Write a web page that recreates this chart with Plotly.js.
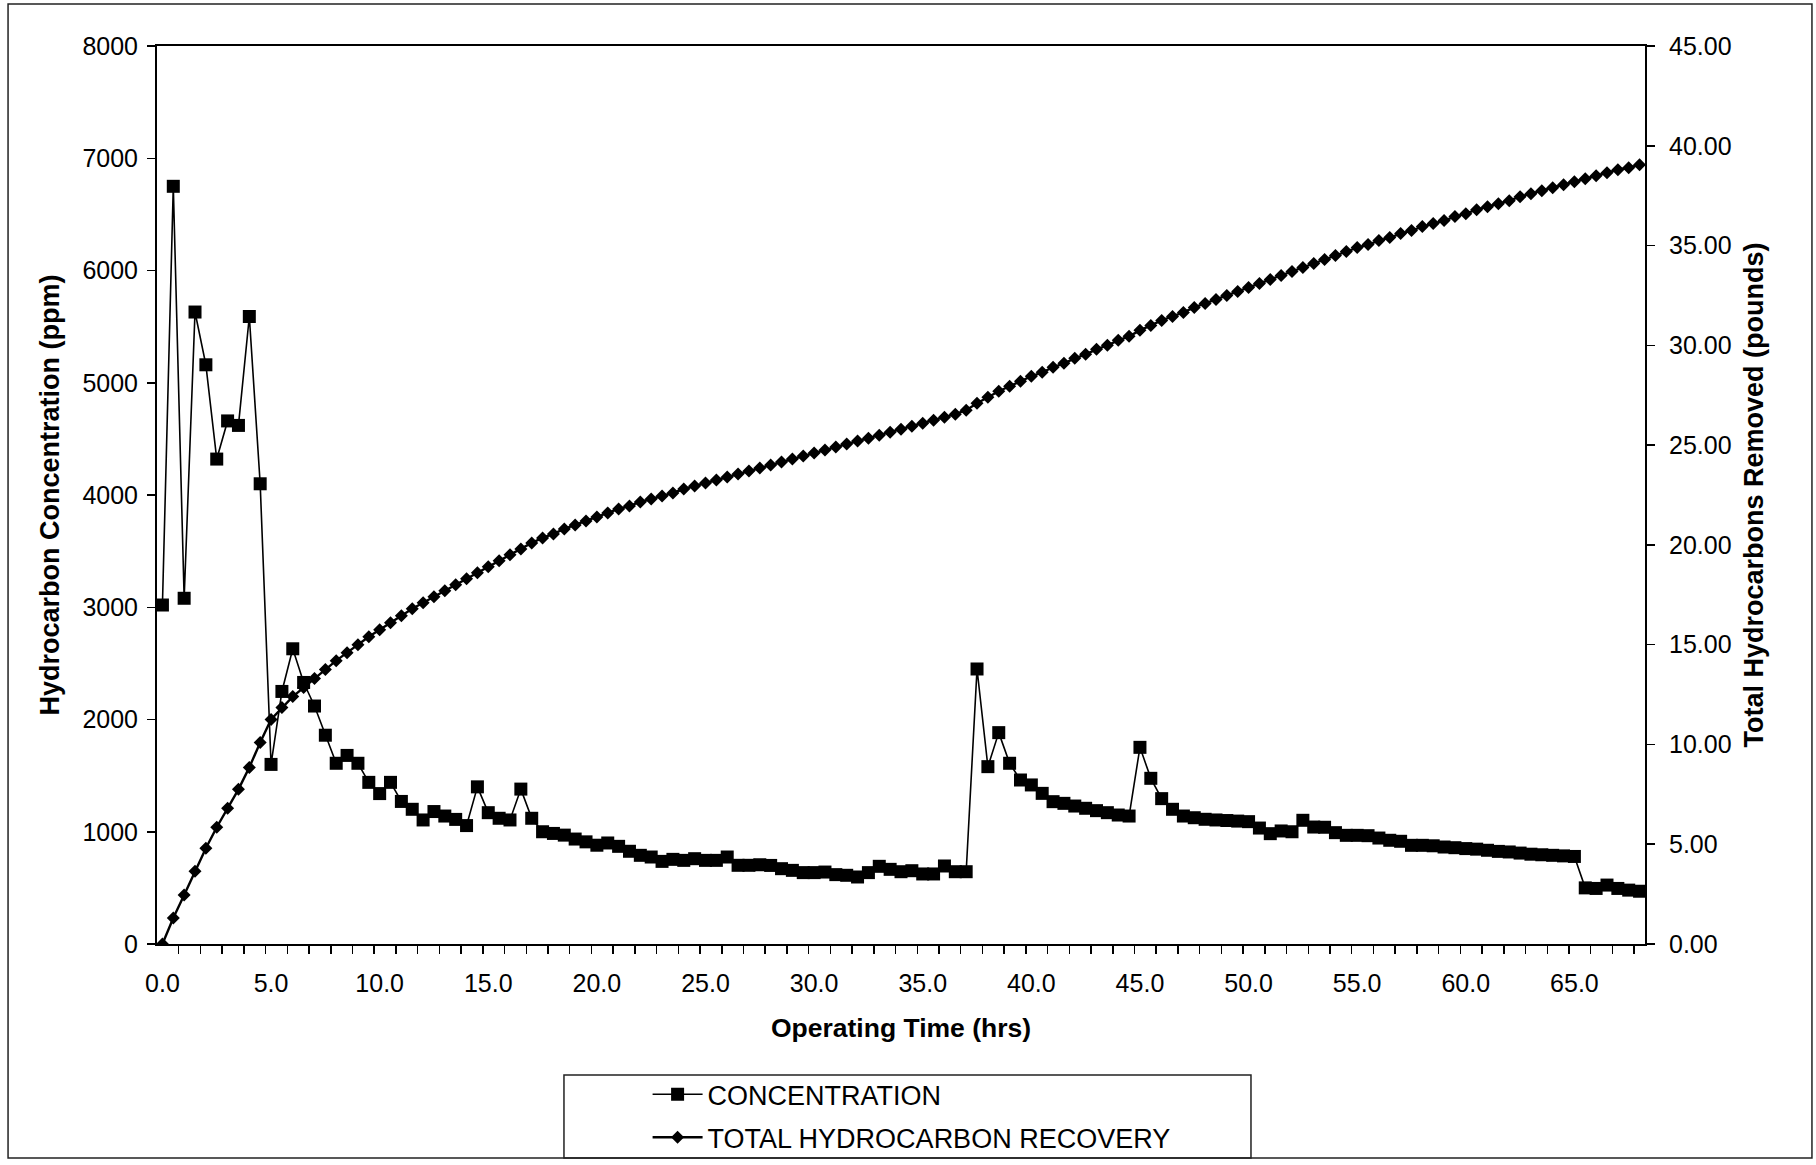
<!DOCTYPE html>
<html>
<head>
<meta charset="utf-8">
<script src="https://cdn.plot.ly/plotly-3.0.1.min.js"></script>
<style>
  html, body { margin: 0; padding: 0; background: #ffffff; }
  #chart { width: 1816px; height: 1165px; }
</style>
</head>
<body>
<div id="chart"></div>
<script>
// Operating time (hrs)
const hours = [
  0, 0.5, 1, 1.5, 2, 2.5, 3, 3.5, 4, 4.5,
  5, 5.5, 6, 6.5, 7, 7.5, 8, 8.5, 9, 9.5,
  10, 10.5, 11, 11.5, 12, 12.5, 13, 13.5, 14, 14.5,
  15, 15.5, 16, 16.5, 17, 17.5, 18, 18.5, 19, 19.5,
  20, 20.5, 21, 21.5, 22, 22.5, 23, 23.5, 24, 24.5,
  25, 25.5, 26, 26.5, 27, 27.5, 28, 28.5, 29, 29.5,
  30, 30.5, 31, 31.5, 32, 32.5, 33, 33.5, 34, 34.5,
  35, 35.5, 36, 36.5, 37, 37.5, 38, 38.5, 39, 39.5,
  40, 40.5, 41, 41.5, 42, 42.5, 43, 43.5, 44, 44.5,
  45, 45.5, 46, 46.5, 47, 47.5, 48, 48.5, 49, 49.5,
  50, 50.5, 51, 51.5, 52, 52.5, 53, 53.5, 54, 54.5,
  55, 55.5, 56, 56.5, 57, 57.5, 58, 58.5, 59, 59.5,
  60, 60.5, 61, 61.5, 62, 62.5, 63, 63.5, 64, 64.5,
  65, 65.5, 66, 66.5, 67, 67.5, 68
];

// Hydrocarbon concentration (ppm)
const concentration = [
  3020, 6750, 3080, 5630, 5160, 4320, 4660, 4620, 5590, 4100,
  1600, 2250, 2630, 2330, 2120, 1860, 1610, 1680, 1610, 1440,
  1340, 1440, 1270, 1200, 1105, 1180, 1140, 1110, 1055, 1400,
  1170, 1120, 1105, 1380, 1120, 1000, 985, 970, 935, 910,
  880, 900, 870, 826, 790, 775, 736, 754, 745, 760,
  745, 745, 775, 701, 701, 706, 700, 671, 656, 636,
  636, 641, 618, 612, 597, 636, 692, 665, 644, 653,
  624, 624, 695, 644, 644, 2450, 1580, 1883, 1610, 1461,
  1417, 1342, 1268, 1253, 1229, 1209, 1188, 1170, 1149, 1140,
  1752, 1476, 1295, 1200, 1140, 1125, 1111, 1105, 1100, 1095,
  1090, 1033, 983, 1007, 1000, 1102, 1042, 1040, 992, 968,
  968, 965, 944, 924, 915, 879, 879, 875, 864, 858,
  850, 845, 835, 825, 820, 810, 800, 795, 790, 785,
  780, 500, 495, 525, 495, 480, 470
];

// Total hydrocarbons removed (pounds)
const recovery = [
  0.00, 1.30, 2.45, 3.65, 4.80, 5.85, 6.80, 7.75, 8.85, 10.10,
  11.25, 11.85, 12.40, 12.85, 13.30, 13.75, 14.20, 14.60, 15.00, 15.40,
  15.75, 16.10, 16.45, 16.80, 17.10, 17.40, 17.70, 18.00, 18.30, 18.60,
  18.90, 19.20, 19.50, 19.80, 20.10, 20.35, 20.55, 20.80, 21.00, 21.20,
  21.40, 21.60, 21.80, 21.95, 22.15, 22.30, 22.45, 22.60, 22.80, 22.95,
  23.10, 23.25, 23.40, 23.55, 23.70, 23.85, 24.00, 24.15, 24.30, 24.45,
  24.60, 24.75, 24.90, 25.05, 25.20, 25.35, 25.50, 25.65, 25.80, 25.95,
  26.10, 26.25, 26.40, 26.55, 26.75, 27.10, 27.40, 27.70, 27.95, 28.20,
  28.45, 28.65, 28.90, 29.10, 29.35, 29.55, 29.80, 30.00, 30.25, 30.45,
  30.75, 31.00, 31.25, 31.45, 31.65, 31.90, 32.10, 32.30, 32.50, 32.70,
  32.90, 33.10, 33.30, 33.50, 33.70, 33.90, 34.10, 34.30, 34.50, 34.70,
  34.90, 35.05, 35.25, 35.40, 35.60, 35.75, 35.95, 36.10, 36.25, 36.45,
  36.60, 36.80, 36.95, 37.10, 37.25, 37.45, 37.60, 37.75, 37.90, 38.05,
  38.20, 38.35, 38.50, 38.65, 38.80, 38.90, 39.05
];

// Tick labels
const xTickVals = [0, 5, 10, 15, 20, 25, 30, 35, 40, 45, 50, 55, 60, 65];
const xTickText = ["0.0", "5.0", "10.0", "15.0", "20.0", "25.0", "30.0", "35.0", "40.0", "45.0", "50.0", "55.0", "60.0", "65.0"];
const xMinorTicks = [];
for (let k = 0; k <= 67; k++) xMinorTicks.push(k + 0.75);

const seriesNames = ["CONCENTRATION", "TOTAL HYDROCARBON RECOVERY"];

const FONT = "Liberation Sans, Arial, sans-serif";

const traces = [
  {
    x: hours, y: concentration, name: seriesNames[0],
    type: "scatter", mode: "lines+markers", yaxis: "y", legendgroup: "a",
    line: { color: "#000000", width: 1.6 },
    marker: { symbol: "square", size: 13, color: "#000000" }
  },
  {
    x: hours, y: recovery, name: seriesNames[1],
    type: "scatter", mode: "lines+markers", yaxis: "y2", legendgroup: "b",
    line: { color: "#000000", width: 2.4 },
    marker: { symbol: "diamond", size: 10, color: "#000000" }
  }
];

const layout = {
  width: 1816, height: 1165,
  paper_bgcolor: "#ffffff", plot_bgcolor: "#ffffff",
  margin: { l: 157, r: 171, t: 46, b: 221, pad: 0, autoexpand: false },
  font: { family: FONT, color: "#000000", size: 25 },
  showlegend: true,
  legend: {
    x: 0.3297, xanchor: "left", y: -0.1405, yanchor: "top",
    bgcolor: "rgba(0,0,0,0)", borderwidth: 0,
    font: { family: FONT, size: 27, color: "#000000" },
    itemwidth: 50, tracegroupgap: 5, traceorder: "grouped"
  },
  xaxis: {
    range: [-0.25, 68.25], type: "linear", automargin: false,
    tickmode: "array", tickvals: xTickVals, ticktext: xTickText,
    ticks: "", showgrid: false, zeroline: false,
    showline: true, linecolor: "#000000", linewidth: 2, mirror: true,
    tickfont: { family: FONT, size: 25, color: "#000000" },
    ticklabelstandoff: 16,
    minor: { tickmode: "array", tickvals: xMinorTicks, ticks: "outside", ticklen: 8, tickcolor: "#000000", tickwidth: 1.5, showgrid: false },
    title: { text: "<b>Operating Time (hrs)</b>", font: { family: FONT, size: 26.5, color: "#000000" }, standoff: 22 }
  },
  yaxis: {
    range: [0, 8000], tickmode: "linear", tick0: 0, dtick: 1000, tickformat: "d", automargin: false,
    ticks: "outside", ticklen: 8, tickwidth: 1.5, tickcolor: "#000000",
    showgrid: false, zeroline: false,
    showline: true, linecolor: "#000000", linewidth: 2,
    tickfont: { family: FONT, size: 25, color: "#000000" },
    ticklabelstandoff: 4,
    title: { text: "<b>Hydrocarbon Concentration (ppm)</b>", font: { family: FONT, size: 27, color: "#000000" }, standoff: 15 }
  },
  yaxis2: {
    range: [0, 45], overlaying: "y", side: "right", automargin: false,
    tickmode: "linear", tick0: 0, dtick: 5, tickformat: ".2f",
    ticks: "outside", ticklen: 8, tickwidth: 1.5, tickcolor: "#000000",
    showgrid: false, zeroline: false,
    showline: true, linecolor: "#000000", linewidth: 2,
    tickfont: { family: FONT, size: 25, color: "#000000" },
    ticklabelstandoff: 9,
    title: { text: "<b>Total Hydrocarbons Removed (pounds)</b>", font: { family: FONT, size: 27, color: "#000000" }, standoff: 14 }
  },
  shapes: [
    { type: "rect", xref: "paper", yref: "paper", x0: -0.1001, x1: 1.1122, y0: -0.2383, y1: 1.0468,
      line: { color: "#222222", width: 1.5 }, fillcolor: "rgba(0,0,0,0)", layer: "below" },
    { type: "rect", xref: "paper", yref: "paper", x0: 0.2735, x1: 0.7352, y0: -0.2383, y1: -0.1459,
      line: { color: "#222222", width: 1.5 }, fillcolor: "rgba(0,0,0,0)", layer: "below" }
  ]
};

Plotly.newPlot("chart", traces, layout, { staticPlot: true, displayModeBar: false });
</script>
</body>
</html>
